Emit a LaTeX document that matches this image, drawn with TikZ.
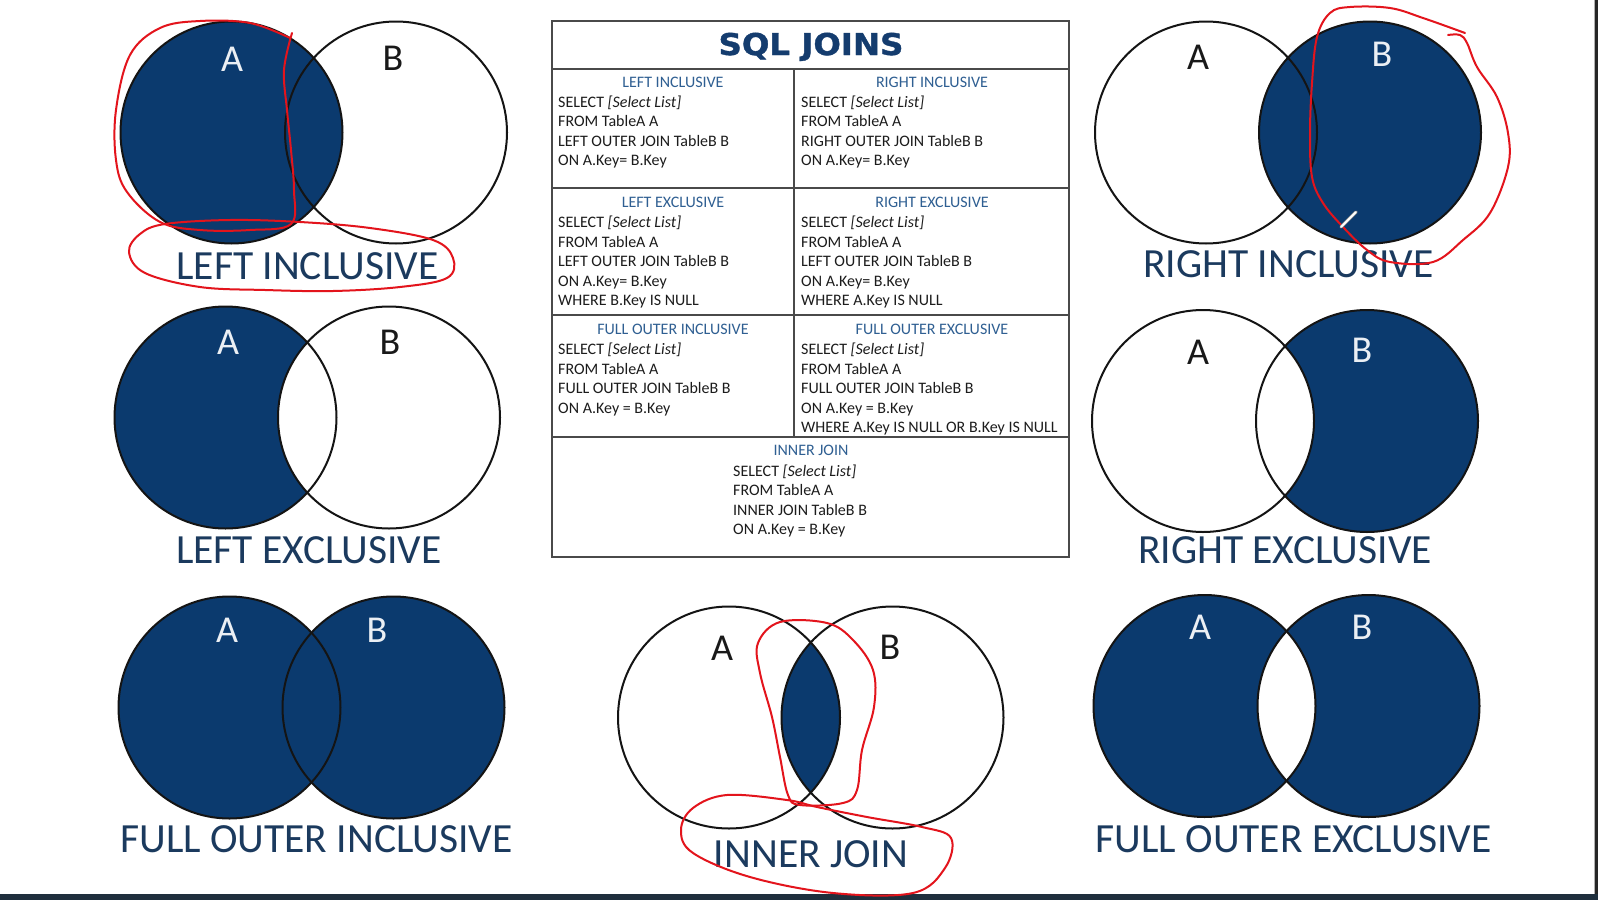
\documentclass[tikz,border=0pt]{standalone}
\usepackage{fontspec}
\setmainfont{Carlito}
\newfontfamily\titlefont[FakeBold=1.2]{DejaVu Sans Bold}
\definecolor{navy}{HTML}{0B3A6E}
\definecolor{labelblue}{HTML}{1B3A5E}
\definecolor{headblue}{HTML}{2F5F92}
\definecolor{bodygray}{HTML}{1C1C1C}
\definecolor{titleblue}{HTML}{143C6E}
\definecolor{tableline}{HTML}{4A4A4A}
\definecolor{marker}{HTML}{E3141C}
\definecolor{barcol}{HTML}{1F2F3D}
\begin{document}
\begin{tikzpicture}[x=1pt,y=-1pt,
  ring/.style={draw=black!92, line width=2pt},
  navyfill/.style={fill=navy},
  biglabel/.style={anchor=base, inner sep=0pt, text=labelblue, font=\fontsize{41.5}{41.5}\selectfont},
  setdark/.style={inner sep=0pt, text=black!90, font=\fontsize{38}{38}\selectfont},
  setlight/.style={inner sep=0pt, text=white!92!navy, font=\fontsize{38}{38}\selectfont},
  grid/.style={draw=tableline, line width=1.5pt},
  headtext/.style={anchor=base, inner sep=0pt, text=headblue, font=\fontsize{16}{16}\selectfont},
  bodytext/.style={anchor=base west, inner sep=0pt, text=bodygray, font=\fontsize{16}{16}\selectfont},
  scribble/.style={draw=marker, line width=2pt, line join=round, line cap=round},
]
% page
\fill[white] (0,0) rectangle (1598,900);
\useasboundingbox (0,0) rectangle (1598,900);
\fill[barcol] (0,894) rectangle (1598,900);
\fill[black!85] (1595,0) rectangle (1598,894);
\draw[black!30, line width=1pt] (1594.5,0) -- (1594.5,894);

% ---------- LEFT INCLUSIVE ----------
\fill[navyfill] (231.5,132.5) circle[radius=111pt];
\draw[ring] (231.5,132.5) circle[radius=111pt];
\draw[ring] (396,132.5) circle[radius=111pt];
\node[setlight] (liA) at (232,59) {A};
\node[setdark] (liB) at (393,58) {B};
\node[biglabel] (liL) at (307.5,279) {LEFT INCLUSIVE};

% ---------- RIGHT INCLUSIVE ----------
\fill[navyfill] (1370,132.5) circle[radius=111pt];
\draw[ring] (1206,132.5) circle[radius=111pt];
\draw[ring] (1370,132.5) circle[radius=111pt];
\node[setdark] (riA) at (1198,57) {A};
\node[setlight] (riB) at (1382,54) {B};
\node[biglabel] (riL) at (1288.5,277) {RIGHT INCLUSIVE};

% ---------- LEFT EXCLUSIVE ----------
\fill[navyfill] (225.5,417.5) circle[radius=111pt];
\begin{scope}
  \clip (225.5,417.5) circle[radius=111pt];
  \fill[white] (389,417.5) circle[radius=111pt];
\end{scope}
\draw[ring] (225.5,417.5) circle[radius=111pt];
\draw[ring] (389,417.5) circle[radius=111pt];
\node[setlight] (leA) at (228,342) {A};
\node[setdark] (leB) at (390,342) {B};
\node[biglabel] (leL) at (309,563) {LEFT EXCLUSIVE};

% ---------- RIGHT EXCLUSIVE ----------
\fill[navyfill] (1367,421) circle[radius=111pt];
\begin{scope}
  \clip (1367,421) circle[radius=111pt];
  \fill[white] (1203,421) circle[radius=111pt];
\end{scope}
\draw[ring] (1203,421) circle[radius=111pt];
\draw[ring] (1367,421) circle[radius=111pt];
\node[setdark] (reA) at (1198,352) {A};
\node[setlight] (reB) at (1362,350) {B};
\node[biglabel] (reL) at (1285,563) {RIGHT EXCLUSIVE};

% ---------- FULL OUTER INCLUSIVE ----------
\fill[navyfill] (229.5,707.5) circle[radius=111pt];
\fill[navyfill] (393.5,707.5) circle[radius=111pt];
\draw[ring] (229.5,707.5) circle[radius=111pt];
\draw[ring] (393.5,707.5) circle[radius=111pt];
\node[setlight] (foiA) at (227,630) {A};
\node[setlight] (foiB) at (377,630) {B};
\node[biglabel] (foiL) at (316.5,852) {FULL OUTER INCLUSIVE};

% ---------- INNER JOIN ----------
\begin{scope}
  \clip (729,717.5) circle[radius=111pt];
  \fill[navyfill] (892.5,717.5) circle[radius=111pt];
\end{scope}
\draw[ring] (729,717.5) circle[radius=111pt];
\draw[ring] (892.5,717.5) circle[radius=111pt];
\node[setdark] (ijA) at (722,648) {A};
\node[setdark] (ijB) at (890,647) {B};
\node[biglabel] (ijL) at (811,867) {INNER JOIN};

% ---------- FULL OUTER EXCLUSIVE ----------
\fill[navyfill] (1204.5,706) circle[radius=111pt];
\fill[navyfill] (1368.5,706) circle[radius=111pt];
\begin{scope}
  \clip (1204.5,706) circle[radius=111pt];
  \fill[white] (1368.5,706) circle[radius=111pt];
\end{scope}
\draw[ring] (1204.5,706) circle[radius=111pt];
\draw[ring] (1368.5,706) circle[radius=111pt];
\node[setlight] (foeA) at (1200,627) {A};
\node[setlight] (foeB) at (1362,627) {B};
\node[biglabel] (foeL) at (1293.5,852) {FULL OUTER EXCLUSIVE};

% ---------- TABLE ----------
\draw[grid] (552,21) rectangle (1069,557);
\draw[grid] (552,69) -- (1069,69);
\draw[grid] (552,188) -- (1069,188);
\draw[grid] (552,315) -- (1069,315);
\draw[grid] (552,437) -- (1069,437);
\draw[grid] (794,69) -- (794,437);
\node[anchor=base, inner sep=0pt, text=titleblue] (title) at (811,55)
  {\scalebox{1.08}[1]{\titlefont\fontsize{30}{30}\selectfont SQL JOINS}};

% row 1
\node[headtext] (h1) at (673,87) {LEFT INCLUSIVE};
\node[bodytext] (a11) at (558,107) {SELECT \textit{[Select List]}};
\node[bodytext] (a12) at (558,126.5) {FROM TableA A};
\node[bodytext] (a13) at (558,146) {LEFT OUTER JOIN TableB B};
\node[bodytext] (a14) at (558,165.5) {ON A.Key= B.Key};
\node[headtext] (h2) at (932,87) {RIGHT INCLUSIVE};
\node[bodytext] (b11) at (801,107) {SELECT \textit{[Select List]}};
\node[bodytext] (b12) at (801,126.5) {FROM TableA A};
\node[bodytext] (b13) at (801,146) {RIGHT OUTER JOIN TableB B};
\node[bodytext] (b14) at (801,165.5) {ON A.Key= B.Key};
% row 2
\node[headtext] (h3) at (673,207) {LEFT EXCLUSIVE};
\node[bodytext] (a21) at (558,227.5) {SELECT \textit{[Select List]}};
\node[bodytext] (a22) at (558,247) {FROM TableA A};
\node[bodytext] (a23) at (558,266.5) {LEFT OUTER JOIN TableB B};
\node[bodytext] (a24) at (558,286) {ON A.Key= B.Key};
\node[bodytext] (a25) at (558,305.5) {WHERE B.Key IS NULL};
\node[headtext] (h4) at (932,207) {RIGHT EXCLUSIVE};
\node[bodytext] (b21) at (801,227.5) {SELECT \textit{[Select List]}};
\node[bodytext] (b22) at (801,247) {FROM TableA A};
\node[bodytext] (b23) at (801,266.5) {LEFT OUTER JOIN TableB B};
\node[bodytext] (b24) at (801,286) {ON A.Key= B.Key};
\node[bodytext] (b25) at (801,305.5) {WHERE A.Key IS NULL};
% row 3
\node[headtext] (h5) at (673,334) {FULL OUTER INCLUSIVE};
\node[bodytext] (a31) at (558,354.5) {SELECT \textit{[Select List]}};
\node[bodytext] (a32) at (558,374) {FROM TableA A};
\node[bodytext] (a33) at (558,393.5) {FULL OUTER JOIN TableB B};
\node[bodytext] (a34) at (558,413) {ON A.Key = B.Key};
\node[headtext] (h6) at (932,334) {FULL OUTER EXCLUSIVE};
\node[bodytext] (b31) at (801,354.5) {SELECT \textit{[Select List]}};
\node[bodytext] (b32) at (801,374) {FROM TableA A};
\node[bodytext] (b33) at (801,393.5) {FULL OUTER JOIN TableB B};
\node[bodytext] (b34) at (801,413) {ON A.Key = B.Key};
\node[bodytext] (b35) at (801,432.5) {WHERE A.Key IS NULL OR B.Key IS NULL};
% row 4
\node[headtext] (h7) at (811,455) {INNER JOIN};
\node[bodytext] (c41) at (733,476) {SELECT \textit{[Select List]}};
\node[bodytext] (c42) at (733,495.5) {FROM TableA A};
\node[bodytext] (c43) at (733,515) {INNER JOIN TableB B};
\node[bodytext] (c44) at (733,534.5) {ON A.Key = B.Key};

% ---------- RED MARKER ANNOTATIONS ----------
\draw[scribble] plot[smooth, tension=0.6] coordinates {
  (290,38) (250,23) (200,21) (160,28) (130,55) (116,110) (116,160) (127,192)
  (160,222) (200,230) (250,230) (291,224) (294,190) (291,150) (287,110) (284,70) (292,33)};
\draw[scribble] plot[smooth cycle, tension=0.6] coordinates {
  (165,224) (230,220) (300,222) (370,228) (433,240) (453,258) (447,278)
  (400,287) (333,291) (265,290) (200,287) (145,273) (129,252) (140,234)};
\draw[scribble] plot[smooth, tension=0.6] coordinates {
  (1465,33) (1423,18) (1390,8) (1350,7) (1330,13) (1317,37) (1312,83) (1310,133)
  (1312,177) (1323,203) (1343,227) (1367,250) (1390,262) (1433,262) (1463,240)
  (1490,213) (1508,167) (1508,133) (1497,97) (1477,67) (1467,43) (1460,35) (1448,35)};
\draw[scribble] plot[smooth cycle, tension=0.6] coordinates {
  (780,622) (827,623) (853,640) (873,670) (874,707) (862,750) (857,790) (843,803)
  (800,805) (788,795) (780,757) (772,717) (760,673) (758,643)};
\draw[scribble] plot[smooth cycle, tension=0.6] coordinates {
  (787,800) (727,795) (693,808) (681,830) (693,853) (750,877) (833,893) (913,893)
  (945,868) (951,838) (922,827) (867,817) (817,807)};
% pen cursor
\draw[black!45, line width=3.5pt, line cap=round] (1341,227) -- (1356,212);
\draw[white, line width=1.8pt, line cap=round] (1341,227) -- (1356,212);
\end{tikzpicture}
\end{document}
